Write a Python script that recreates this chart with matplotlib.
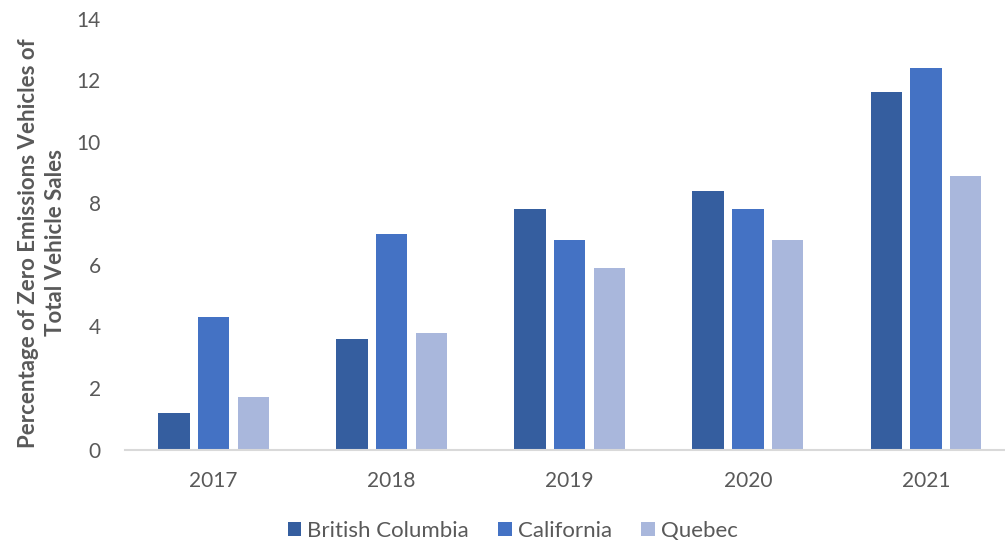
import matplotlib.pyplot as plt
import numpy as np

# Zero emission vehicle share of total sales, by year
years = ["2017", "2018", "2019", "2020", "2021"]
british_columbia = [1.2, 3.6, 7.8, 8.4, 11.6]
california = [4.3, 7.0, 6.8, 7.8, 12.4]
quebec = [1.7, 3.8, 5.9, 6.8, 8.9]

series = [
    ("British Columbia", british_columbia, "#355E9F"),
    ("California", california, "#4472C4"),
    ("Quebec", quebec, "#A9B7DC"),
]

plt.rcParams["font.family"] = ["Lato", "DejaVu Sans"]
text_color = "#595959"

fig = plt.figure(figsize=(10.05, 5.44), dpi=100)
ax = fig.add_axes([124.5 / 1005, 1 - 449.7 / 544, 880.5 / 1005, 431.2 / 544])

x = np.arange(len(years))
width = 0.176
step = 0.223
for i, (name, values, color) in enumerate(series):
    ax.bar(x + (i - 1) * step, values, width, color=color, label=name, zorder=2)

ax.set_xlim(-0.5, -0.5 + 880.5 / 178.1)
ax.set_ylim(0, 14)
ax.set_yticks(range(0, 15, 2))
ax.set_xticks(x)
ax.set_xticklabels(years)

for side in ["top", "right", "left"]:
    ax.spines[side].set_visible(False)
ax.spines["bottom"].set_color("#D9D9D9")
ax.spines["bottom"].set_linewidth(1.5)
ax.tick_params(axis="both", length=0, labelsize=15, colors=text_color)
ax.tick_params(axis="x", pad=15)
ax.tick_params(axis="y", pad=17)

ax.set_ylabel("Percentage of Zero Emissions Vehicles of\nTotal Vehicle Sales",
              fontsize=16, fontweight="bold", color=text_color,
              linespacing=1.35)
ax.yaxis.set_label_coords(-0.066, 0.48)

fig.legend(loc="center", bbox_to_anchor=(0.51, 1 - 531 / 544), ncol=3,
           frameon=False, fontsize=16, labelcolor=text_color,
           handlelength=0.62, handleheight=0.62, handletextpad=0.27,
           columnspacing=1.3)

fig.savefig("out.png", dpi=100)
